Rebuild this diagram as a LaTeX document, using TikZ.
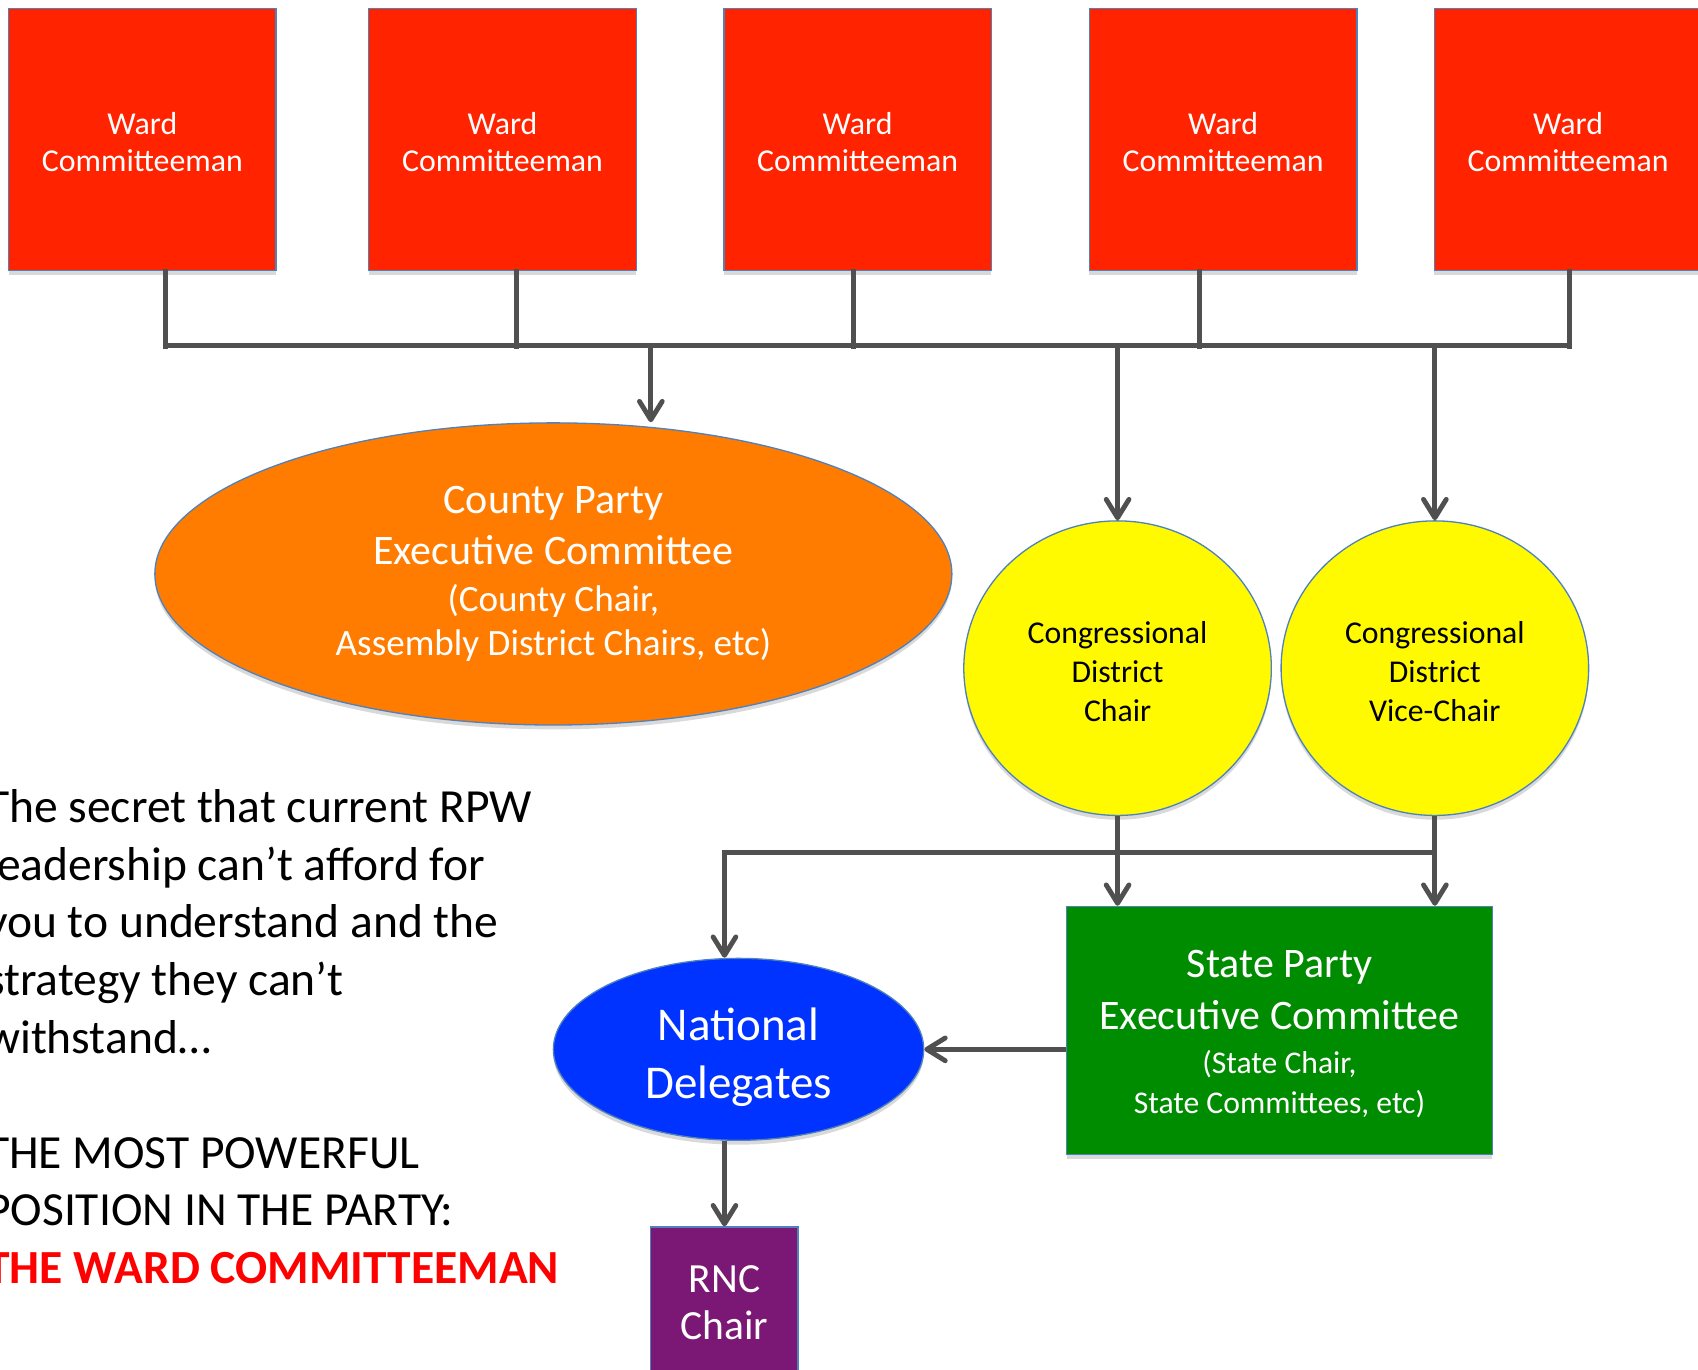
\documentclass[tikz,border=0pt]{standalone}
\usepackage{fontspec}
\setmainfont{Carlito}
\usetikzlibrary{shapes.geometric,arrows.meta,shadows}
\definecolor{wardred}{RGB}{255,35,0}
\definecolor{countyorange}{RGB}{255,124,0}
\definecolor{cdyellow}{RGB}{255,250,0}
\definecolor{stategreen}{RGB}{0,140,0}
\definecolor{natblue}{RGB}{0,51,255}
\definecolor{rncpurple}{RGB}{123,24,118}
\definecolor{linkgray}{RGB}{80,80,80}
\definecolor{edgeblue}{RGB}{79,129,189}
\definecolor{alertred}{RGB}{255,0,0}
\begin{document}
\begin{tikzpicture}[x=1pt,y=1pt]
				\tikzstyle{every node}+=[inner sep=0pt, text=white, align=center]
				\tikzstyle{orgshape}=[draw=edgeblue, line width=1.2pt, drop shadow={shadow xshift=0pt, shadow yshift=-4pt, opacity=0.3}]
				\tikzstyle{wardbox}=[orgshape, rectangle, fill=wardred, minimum width=247pt, minimum height=242pt, font=\fontsize{29.4}{34}\selectfont]
				\tikzstyle{cdcircle}=[orgshape, ellipse, fill=cdyellow, text=black, minimum width=284pt, minimum height=272pt, font=\fontsize{29.3}{36}\selectfont]
				\tikzstyle{link}=[draw=linkgray, line width=4.5pt]
				\tikzstyle{flow}=[link, -{Straight Barb[length=17pt, width=21pt, round]}]
				\clip (0,0) rectangle (1568,-1265);
				\coordinate (busL) at (153,-319);
				\coordinate (busR) at (1449,-319);
				\foreach \i/\x/\d in {1/131.5/21.5, 2/464/13, 3/792/-4, 4/1129.5/-21.5, 5/1448/1} {
					\node[wardbox] (ward\i) at (\x,-129) {\rule{0pt}{25pt}Ward\\Committeeman};
					\draw[link, line cap=rect] ([xshift=\d pt]ward\i.south) -- ++(0,-69);
				}
				\draw[link, line cap=rect] (busL) -- (busR);
				\node[orgshape, ellipse, fill=countyorange, minimum width=736pt, minimum height=279pt, font=\fontsize{38.8}{47}\selectfont] (county) at (511,-530) {County Party\\Executive Committee\\[-4pt]\fontsize{34.3}{41}\selectfont(County Chair,\\[-6pt]\fontsize{34.3}{41}\selectfont Assembly District Chairs, etc)};
				\node[cdcircle] (cdchair) at (1032,-617) {\rule{0pt}{27pt}Congressional\\District\\Chair};
				\node[cdcircle] (cdvice) at (1325,-617) {\rule{0pt}{27pt}Congressional\\District\\Vice-Chair};
				\node[orgshape, rectangle, fill=stategreen, minimum width=393pt, minimum height=229pt, font=\fontsize{38.8}{48}\selectfont] (state) at (1181.5,-951.5) {\rule{0pt}{32pt}State Party\\Executive Committee\\[-8pt]\fontsize{29.2}{37}\selectfont(State Chair,\\[-11pt]\fontsize{29.2}{37}\selectfont State Committees, etc)};
				\node[orgshape, ellipse, fill=natblue, minimum width=342pt, minimum height=168pt, font=\fontsize{43.4}{54}\selectfont] (natl) at (682,-969) {\rule{0pt}{45pt}National\\Delegates};
				\node[orgshape, rectangle, fill=rncpurple, minimum width=136pt, minimum height=140pt, font=\fontsize{38.3}{44}\selectfont] (rnc) at (669,-1203) {RNC\\Chair};
				\coordinate (tapcounty) at (601,-319);
				\coordinate (tapchair) at (cdchair.north |- busL);
				\coordinate (tapvice) at (cdvice.north |- busL);
				\draw[flow] (tapcounty) -- (tapcounty |- county.north);
				\draw[flow] (tapchair) -- (cdchair.north);
				\draw[flow] (tapvice) -- (cdvice.north);
				\coordinate (split) at (669,-787);
				\draw[flow] (cdchair.south) -- (cdchair.south |- state.north);
				\draw[flow] (cdvice.south) -- (cdvice.south |- state.north);
				\draw[flow] (cdvice.south |- split) -- (split) -- (split |- natl.north);
				\draw[flow] (state.west |- natl.east) -- (natl.east);
				\draw[flow] (rnc.north |- natl.south) -- (rnc.north);
				\node[anchor=north west, text=black, align=left, font=\fontsize{43.9}{53.2}\selectfont] (secret) at (-13,-729) {The secret that current RPW\\leadership can’t afford for\\you to understand and the\\strategy they can’t\\withstand…\\[53pt]THE MOST POWERFUL\\POSITION IN THE PARTY:\\\textcolor{alertred}{\bfseries THE WARD COMMITTEEMAN}};
			\end{tikzpicture}
\end{document}
